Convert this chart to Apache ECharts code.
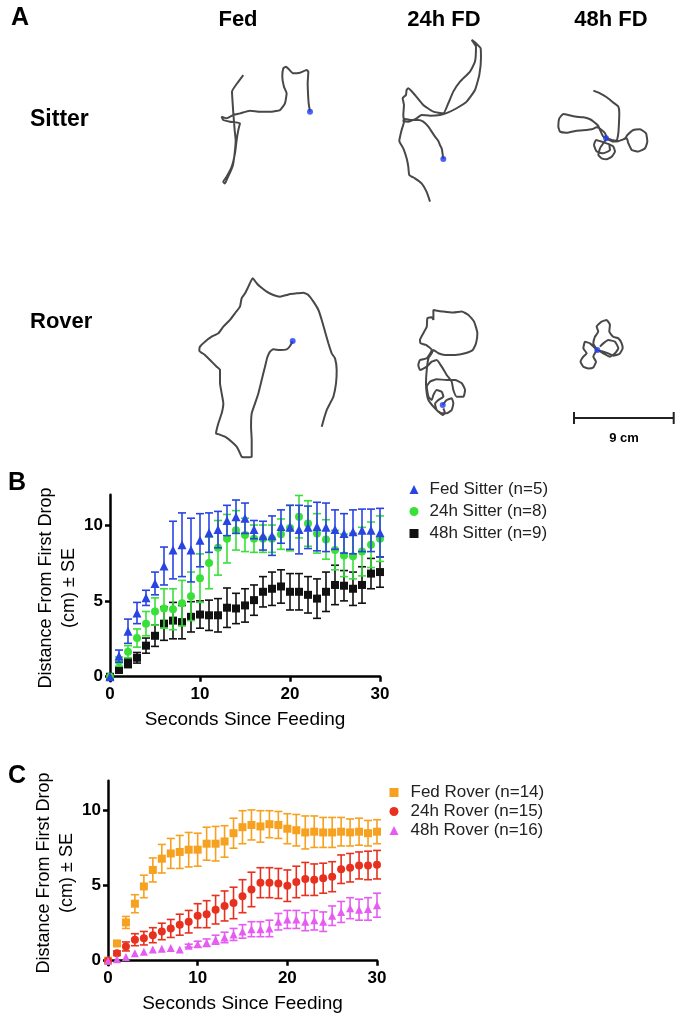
<!DOCTYPE html>
<html><head><meta charset="utf-8">
<script src="https://cdn.jsdelivr.net/npm/echarts@6/dist/echarts.min.js"></script>
<style>html,body{margin:0;padding:0;background:#fff}#c{width:678px;height:1020px}</style>
</head><body><div id="c"></div>
<script>
// ---------- DATA ----------
const seconds = [0,1,2,3,4,5,6,7,8,9,10,11,12,13,14,15,16,17,18,19,20,21,22,23,24,25,26,27,28,29,30];
const xTicks = [0,10,20,30];
const yTicks = [0,5,10];

const fedSitterMean = [0,1.36,3.0,4.2,5.2,6.15,7.3,8.35,8.7,8.35,9.0,9.5,9.7,10.3,10.55,10.45,9.7,9.3,9.3,9.9,9.85,9.7,9.85,9.9,9.85,9.7,9.45,9.55,9.65,9.65,9.5];
const fedSitterSE   = [0,0.4,0.8,0.7,0.5,0.75,1.25,1.9,2.1,2.1,1.75,1.3,1.2,1.0,1.1,1.0,0.6,0.95,1.3,1.1,1.45,1.6,1.4,1.6,1.6,1.3,1.3,1.45,1.4,1.4,1.6];
const h24SitterMean = [0,1.0,1.65,2.55,3.5,4.3,4.5,4.45,4.85,5.3,6.5,7.5,8.5,9.1,9.65,9.35,9.1,9.1,9.1,9.4,9.8,10.55,10.1,9.45,9.05,8.35,8.0,7.95,8.25,8.7,9.1];
const h24SitterSE   = [0,0.3,0.4,0.6,0.8,0.9,1.3,1.35,1.5,1.6,1.6,1.7,1.8,1.6,1.3,1.1,0.9,0.9,0.9,1.0,1.5,1.4,1.5,1.3,1.3,1.3,1.4,1.5,1.6,1.5,1.5];
const h48SitterMean = [0,0.45,0.9,1.25,2.05,2.7,3.5,3.7,3.6,3.95,4.1,4.05,4.05,4.55,4.5,4.7,5.05,5.6,5.8,5.95,5.6,5.6,5.4,5.15,5.6,6.05,6.0,5.8,6.05,6.8,6.9];
const h48SitterSE   = [0,0.2,0.3,0.35,0.5,0.7,1.1,1.2,1.1,1.0,0.9,1.0,1.1,1.3,1.0,1.1,1.0,1.0,1.1,1.1,1.2,1.2,1.2,1.3,1.3,1.3,1.0,1.1,1.2,1.0,1.0];

const fedRoverMean = [0,1.15,2.55,3.8,4.95,6.05,6.8,7.15,7.25,7.4,7.4,7.8,7.8,7.95,8.5,8.9,9.05,8.95,9.1,9.05,8.8,8.7,8.55,8.6,8.55,8.55,8.6,8.55,8.6,8.5,8.6];
const fedRoverSE   = [0,0.15,0.4,0.6,0.75,0.8,0.95,1.0,1.1,1.15,1.1,1.1,1.15,1.05,1.0,1.1,1.0,1.05,0.9,0.9,1.0,1.05,1.1,1.05,1.0,1.0,0.95,0.9,0.9,0.85,0.8];
const h24RoverMean = [0,0.5,0.95,1.4,1.5,1.7,1.95,2.15,2.4,2.6,3.0,3.1,3.4,3.65,3.85,4.3,4.75,5.2,5.2,5.15,5.0,5.25,5.45,5.4,5.5,5.6,6.1,6.2,6.35,6.35,6.4];
const h24RoverSE   = [0,0.15,0.3,0.4,0.45,0.5,0.55,0.6,0.7,0.75,0.8,0.9,0.95,1.0,1.05,1.1,1.15,1.0,1.0,1.0,1.05,1.05,1.1,1.05,1.0,1.0,0.95,0.95,0.9,0.95,0.95];
const h48RoverMean = [0,0.1,0.25,0.5,0.6,0.75,0.8,0.85,0.75,1.0,1.1,1.2,1.4,1.55,1.75,1.95,2.1,2.1,2.15,2.6,2.75,2.75,2.6,2.7,2.6,3.0,3.25,3.5,3.4,3.45,3.7];
const h48RoverSE   = [0,0,0,0,0,0,0,0,0,0.1,0.2,0.25,0.3,0.35,0.4,0.45,0.5,0.5,0.55,0.55,0.6,0.6,0.6,0.65,0.65,0.65,0.7,0.7,0.7,0.75,0.8];

const sitterNames = ['Fed Sitter (n=5)','24h Sitter (n=8)','48h Sitter (n=9)'];
const roverNames  = ['Fed Rover (n=14)','24h Rover (n=15)','48h Rover (n=16)'];
const columnLabels = ['Fed','24h FD','48h FD'];
const rowLabels = ['Sitter','Rover'];
const scaleBarCm = [0, 9];

// larval tracks, cm relative to the first drop (blue dot), y up
const trackFedSitter = [[0,0],[-0.12,0.75],[-0.18,1.66],[-0.21,2.56],[-0.15,3.61],[-0.30,3.76],[-0.90,3.52],[-1.51,3.46],[-1.90,3.82],[-2.17,4.06],[-2.41,3.91],[-2.50,3.16],[-2.35,2.26],[-2.11,1.66],[-2.26,0.75],[-2.71,0.15],[-3.46,0],[-4.52,0],[-5.42,0.09],[-6.32,-0.15],[-6.92,-0.30],[-7.53,-0.60],[-7.98,-0.45],[-7.83,-0.75],[-7.22,-0.90],[-6.32,-1.05],[-6.47,-1.66],[-6.62,-2.56],[-6.77,-3.76],[-7.07,-4.97],[-7.53,-5.87],[-7.83,-6.32],[-7.68,-6.47],[-7.46,-6.02],[-6.98,-4.91],[-6.80,-3.76],[-6.71,-2.56],[-6.80,-1.66],[-6.86,-0.90],[-6.92,-0.15],[-6.98,0.75],[-7.04,1.81],[-6.62,2.50],[-6.02,3.31]];
const track24Sitter = [[0,0],[-0.09,0.66],[-0.15,0.96],[-0.30,1.26],[-0.45,1.63],[-0.75,2.02],[-1.05,2.47],[-1.35,2.92],[-1.81,3.37],[-2.26,3.52],[-2.86,3.52],[-3.46,3.61],[-3.61,3.43],[-3.16,3.37],[-2.41,3.67],[-1.96,3.97],[-1.20,3.91],[-0.30,3.97],[0.45,4.21],[1.20,4.58],[2.11,5.18],[2.86,6.23],[3.25,7.59],[3.40,9.09],[3.37,9.99],[2.95,10.44],[2.56,10.75],[2.71,10.54],[2.95,10.14],[2.86,8.79],[2.41,7.89],[1.51,6.98],[0.90,6.08],[0.45,5.03],[0,4.12],[-0.90,4.27],[-1.81,4.88],[-2.56,5.78],[-3.16,6.38],[-3.31,6.23],[-3.37,5.78],[-3.67,5.48],[-3.55,4.88],[-3.61,3.97],[-3.55,3.37],[-3.76,2.62],[-3.97,1.63],[-3.61,0.96],[-3.31,0.06],[-3.16,-0.69],[-3.07,-1.44],[-2.56,-1.75],[-1.96,-2.20],[-1.51,-2.95],[-1.20,-3.85]];
const track48Sitter = [[-1.14,4.30],[-0.54,4.06],[0.06,3.70],[0.66,3.22],[1.11,2.86],[1.20,2.26],[1.17,1.35],[1.11,0.45],[0.96,-0.21],[0.51,-0.15],[0,0],[0.66,-0.30],[1.26,-0.21],[1.72,0],[1.93,0.30],[2.47,0.75],[3.07,0.81],[3.61,0.45],[3.73,-0.30],[3.52,-0.90],[2.92,-1.20],[2.32,-1.05],[2.02,-0.45],[1.87,0],[1.41,-0.15],[0.96,-0.30],[0.36,-0.09],[-0.24,0.15],[-0.54,0.75],[-0.69,1.11],[-1.14,1.51],[-1.44,1.72],[-2.05,1.90],[-2.80,1.96],[-3.40,2.11],[-3.85,2.20],[-4.21,1.81],[-4.30,1.05],[-4.15,0.60],[-3.55,0.51],[-2.65,0.69],[-1.75,0.75],[-1.29,0.81],[-0.84,0.99],[-0.39,0.75],[-0.09,0.45],[0.06,0],[-0.24,-0.45],[-0.54,-0.90],[-0.69,-1.51],[-0.39,-1.81],[0.06,-1.90],[0.51,-1.66],[0.81,-1.20],[0.66,-0.75],[0.21,-0.51],[-0.39,-0.30],[-0.90,-0.15],[-1.08,-0.60],[-0.84,-1.20],[-0.24,-1.35],[0.36,-1.05],[0.30,-0.60]];
const trackFedRover = [[0,0],[-0.24,-0.45],[-0.54,-0.75],[-1.14,-0.81],[-1.75,-0.75],[-2.05,-0.96],[-2.29,-1.47],[-2.50,-2.32],[-2.80,-3.52],[-3.10,-4.73],[-3.40,-5.63],[-3.70,-6.53],[-3.76,-7.74],[-3.70,-8.94],[-3.70,-10.44],[-4.15,-10.50],[-4.61,-10.44],[-4.82,-9.99],[-5.06,-9.54],[-5.51,-9.09],[-6.11,-8.64],[-6.71,-8.40],[-6.92,-8.34],[-6.71,-7.43],[-6.41,-6.53],[-6.26,-5.63],[-6.41,-4.73],[-6.56,-3.82],[-6.56,-2.62],[-6.86,-2.32],[-7.46,-1.72],[-7.92,-1.26],[-8.43,-0.87],[-8.37,-0.51],[-7.92,-0.06],[-7.31,0.39],[-6.71,0.69],[-6.26,1.29],[-5.66,1.90],[-5.21,2.50],[-4.76,3.10],[-4.61,3.85],[-4.30,4.30],[-4.00,4.91],[-3.61,5.66],[-3.25,5.21],[-2.95,4.91],[-2.35,4.45],[-1.75,4.15],[-1.14,4.00],[-0.54,4.15],[-0.24,4.24],[0.36,4.30],[0.96,4.36],[1.41,4.15],[1.87,3.55],[2.32,2.80],[2.62,1.90],[2.92,0.84],[3.22,-0.21],[3.52,-1.11],[3.82,-1.57],[3.97,-2.62],[3.91,-3.82],[3.67,-5.03],[3.37,-5.63],[3.07,-6.23],[2.83,-6.98],[2.62,-7.74]];
const track24Rover = [[0,0],[0.36,0.45],[0.81,0.60],[0.96,0.15],[0.81,-0.45],[0.36,-0.75],[-0.09,-0.75],[-0.54,-0.45],[-0.69,0.09],[-0.39,0.45],[0.06,0.75],[-0.09,1.20],[-0.54,1.35],[-0.84,0.90],[-0.99,0.45],[-1.29,0.75],[-1.44,1.66],[-1.14,2.11],[-0.54,2.32],[0.36,2.26],[1.11,2.26],[1.72,1.96],[2.02,1.35],[1.87,0.75],[1.26,0.75],[0.96,1.35],[0.81,2.11],[0.36,2.71],[-0.09,3.46],[-0.54,4.06],[-0.99,3.91],[-1.44,3.46],[-2.05,3.16],[-2.20,3.61],[-2.05,4.06],[-1.44,4.21],[-0.99,4.97],[-1.51,5.42],[-1.99,5.57],[-2.05,5.87],[-1.75,6.47],[-1.44,7.07],[-1.38,7.83],[-0.99,7.92],[-0.84,7.68],[-0.84,8.58],[0.06,8.43],[0.96,8.34],[1.72,8.43],[2.32,8.13],[2.83,7.53],[3.13,6.47],[3.01,5.57],[2.71,4.97],[2.02,4.67],[1.11,4.52],[0.21,4.52],[-0.39,4.67],[-0.84,4.97],[-0.99,4.67],[-1.29,4.21],[-1.44,3.16],[-1.51,1.96],[-1.44,1.05],[-1.29,0.45],[-0.84,-0.15],[-0.39,-0.60],[0,-0.90],[0.21,-0.75],[0.06,-0.30]];
const track48Rover = [[0,0],[-0.36,0.60],[-0.21,1.20],[0.09,1.66],[-0.06,2.11],[0.39,2.56],[0.84,2.71],[1.14,2.26],[1.08,1.66],[1.44,1.20],[1.90,1.05],[2.20,0.60],[2.29,0.15],[1.99,-0.36],[1.44,-0.51],[0.99,-0.30],[0.54,-0.15],[0,0],[-0.66,0.60],[-1.11,0.75],[-1.26,0.15],[-0.96,-0.30],[-1.26,-0.60],[-1.51,-1.05],[-1.26,-1.51],[-0.81,-1.66],[-0.36,-1.57],[-0.12,-1.05],[-0.36,-0.60],[0,0],[0.54,-0.30],[1.14,-0.60],[1.60,-0.30],[1.90,0.15],[1.60,0.75],[0.99,0.90],[0.54,0.60],[0.24,0.30]];

// ---------- LAYOUT / STYLE ----------
const S = 11.08; // px per cm in panel A
const trackLayout = [
  {track: trackFedSitter, ox: 310, oy: 111.7},
  {track: track24Sitter,  ox: 443.3, oy: 159},
  {track: track48Sitter,  ox: 606, oy: 138.3},
  {track: trackFedRover,  ox: 292.7, oy: 341},
  {track: track24Rover,   ox: 442.7, oy: 405},
  {track: track48Rover,   ox: 597.3, oy: 350}
];
const C = {blue:'#2a44e2', green:'#38e038', black:'#111111', orange:'#f6a11f', red:'#e8301f', magenta:'#e65cf2'};
const FONT = 'Liberation Sans, Arial, Helvetica, sans-serif';

const grids=[], xAxes=[], yAxes=[], series=[];

trackLayout.forEach((t, i) => {
  const xs = t.track.map(p=>p[0]), ys = t.track.map(p=>p[1]);
  const x0 = Math.min(...xs)-0.5, x1 = Math.max(...xs)+0.5, y0 = Math.min(...ys)-0.5, y1 = Math.max(...ys)+0.5;
  grids.push({left: t.ox + x0*S, top: t.oy - y1*S, width: (x1-x0)*S, height: (y1-y0)*S});
  xAxes.push({type:'value', gridIndex:i, min:x0, max:x1, show:false});
  yAxes.push({type:'value', gridIndex:i, min:y0, max:y1, show:false});
  series.push({type:'line', xAxisIndex:i, yAxisIndex:i, data:t.track, showSymbol:false, smooth:0.15,
    lineStyle:{color:'#484848', width:2}, silent:true, z:2});
  series.push({type:'scatter', xAxisIndex:i, yAxisIndex:i, data:[[0,0]], symbolSize:6,
    itemStyle:{color:'#1f3cf0'}, silent:true, z:3});
});

// scale bar grid (index 6)
grids.push({left:574, top:408, width:99.7, height:20});
xAxes.push({type:'value', gridIndex:6, min:0, max:9, show:false});
yAxes.push({type:'value', gridIndex:6, min:-1, max:1, show:false});
series.push({type:'custom', xAxisIndex:6, yAxisIndex:6, data:[scaleBarCm], silent:true,
  renderItem:(p, api)=>{
    const a = api.coord([api.value(0),0]), b = api.coord([api.value(1),0]);
    const st = {stroke:'#222', lineWidth:2};
    return {type:'group', children:[
      {type:'line', shape:{x1:a[0],y1:a[1],x2:b[0],y2:b[1]}, style:st},
      {type:'line', shape:{x1:a[0],y1:a[1]-6,x2:a[0],y2:a[1]+6}, style:st},
      {type:'line', shape:{x1:b[0],y1:b[1]-6,x2:b[0],y2:b[1]+6}, style:st}
    ]};
  }});

// panels B (grid 7) and C (grid 8)
const yMin = -0.3;
grids.push({left:110, top:494.7, width:270, height:12.3*15.17});
grids.push({left:108, top:780.7, width:269, height:12.3*15.0});

function xAxisFor(g){
  return {type:'value', gridIndex:g, min:0, max:30, interval:10,
    axisLine:{lineStyle:{color:'#000', width:2.5}}, axisTick:{length:5, lineStyle:{width:2.5, color:'#000'}},
    axisLabel:{color:'#000', fontFamily:FONT, fontWeight:'bold', fontSize:17, margin:5},
    splitLine:{show:false},
    name:'Seconds Since Feeding', nameLocation:'middle', nameGap:29,
    nameTextStyle:{color:'#000', fontFamily:FONT, fontSize:19}};
}
function yAxisFor(g){
  return {type:'value', gridIndex:g, min:yMin, max:12,
    axisLine:{onZero:false, lineStyle:{color:'#000', width:2.5}},
    axisTick:{length:5, lineStyle:{width:2.5, color:'#000'}, customValues:yTicks},
    axisLabel:{color:'#000', fontFamily:FONT, fontWeight:'bold', fontSize:17, margin:7, customValues:yTicks},
    splitLine:{show:false},
    name:'Distance From First Drop\n(cm) ± SE', nameLocation:'middle', nameGap:28, nameRotate:90,
    nameTextStyle:{color:'#000', fontFamily:FONT, fontSize:18, lineHeight:23, align:'center'}};
}
xAxes.push(xAxisFor(7)); yAxes.push(yAxisFor(7));
xAxes.push(xAxisFor(8)); yAxes.push(yAxisFor(8));

function errRender(color){
  return (p, api) => {
    const x = api.value(0), m = api.value(1), e = api.value(2);
    if (!e) return {type:'group', children:[]};
    const lo = api.coord([x, m-e]), hi = api.coord([x, m+e]);
    const w = 4, st = {stroke:color, lineWidth:1.6};
    return {type:'group', children:[
      {type:'line', shape:{x1:lo[0],y1:lo[1],x2:hi[0],y2:hi[1]}, style:st},
      {type:'line', shape:{x1:lo[0]-w,y1:lo[1],x2:lo[0]+w,y2:lo[1]}, style:st},
      {type:'line', shape:{x1:hi[0]-w,y1:hi[1],x2:hi[0]+w,y2:hi[1]}, style:st}
    ]};
  };
}
function addGroup(g, name, mean, se, color, symbol, size, z){
  const d = seconds.map((s,i)=>[s, mean[i], se[i]]);
  series.push({type:'custom', xAxisIndex:g, yAxisIndex:g, data:d, renderItem:errRender(color), z:z, silent:true, clip:false});
  series.push({type:'scatter', name:name, xAxisIndex:g, yAxisIndex:g, data:d.map(v=>[v[0],v[1]]),
    symbol:symbol, symbolSize:size, itemStyle:{color:color, opacity:1}, z:z+0.5, silent:true});
}
addGroup(7, sitterNames[2], h48SitterMean, h48SitterSE, C.black, 'rect', 8, 3);
addGroup(7, sitterNames[1], h24SitterMean, h24SitterSE, C.green, 'circle', 8, 4);
addGroup(7, sitterNames[0], fedSitterMean, fedSitterSE, C.blue, 'triangle', 9, 5);
addGroup(8, roverNames[0], fedRoverMean, fedRoverSE, C.orange, 'rect', 8, 3);
addGroup(8, roverNames[1], h24RoverMean, h24RoverSE, C.red, 'circle', 8, 4);
addGroup(8, roverNames[2], h48RoverMean, h48RoverSE, C.magenta, 'triangle', 8, 5);

const legends = [
  {data:sitterNames, left:404.5, top:476, itemGap:5, orient:'vertical', itemWidth:9, itemHeight:9,
   textStyle:{color:'#222', fontFamily:FONT, fontSize:17, padding:[0,0,0,6]}, selectedMode:false},
  {data:roverNames, left:384.5, top:779, itemGap:2, orient:'vertical', itemWidth:9, itemHeight:9,
   textStyle:{color:'#222', fontFamily:FONT, fontSize:17, padding:[0,0,0,7]}, selectedMode:false}
];

const bold = (s)=>'bold '+s+'px '+FONT;
const graphic = [
  {type:'text', x:20, y:18, style:{text:'A', font:bold(25), fill:'#000', align:'center', verticalAlign:'middle'}},
  {type:'text', x:17, y:483, style:{text:'B', font:bold(25), fill:'#000', align:'center', verticalAlign:'middle'}},
  {type:'text', x:17, y:776, style:{text:'C', font:bold(25), fill:'#000', align:'center', verticalAlign:'middle'}},
  {type:'text', x:238, y:20, style:{text:columnLabels[0], font:bold(22), fill:'#000', align:'center', verticalAlign:'middle'}},
  {type:'text', x:444, y:20, style:{text:columnLabels[1], font:bold(22), fill:'#000', align:'center', verticalAlign:'middle'}},
  {type:'text', x:611, y:20, style:{text:columnLabels[2], font:bold(22), fill:'#000', align:'center', verticalAlign:'middle'}},
  {type:'text', x:30, y:120, style:{text:rowLabels[0], font:bold(23), fill:'#000', align:'left', verticalAlign:'middle'}},
  {type:'text', x:30, y:322, style:{text:rowLabels[1], font:bold(22), fill:'#000', align:'left', verticalAlign:'middle'}},
  {type:'text', x:624, y:438, style:{text:'9 cm', font:bold(13), fill:'#000', align:'center', verticalAlign:'middle'}}
];

const chart = echarts.init(document.getElementById('c'), null, {renderer:'canvas'});
chart.setOption({
  animation:false, backgroundColor:'#fff',
  grid:grids, xAxis:xAxes, yAxis:yAxes, series:series, legend:legends, graphic:graphic
});
</script></body></html>
